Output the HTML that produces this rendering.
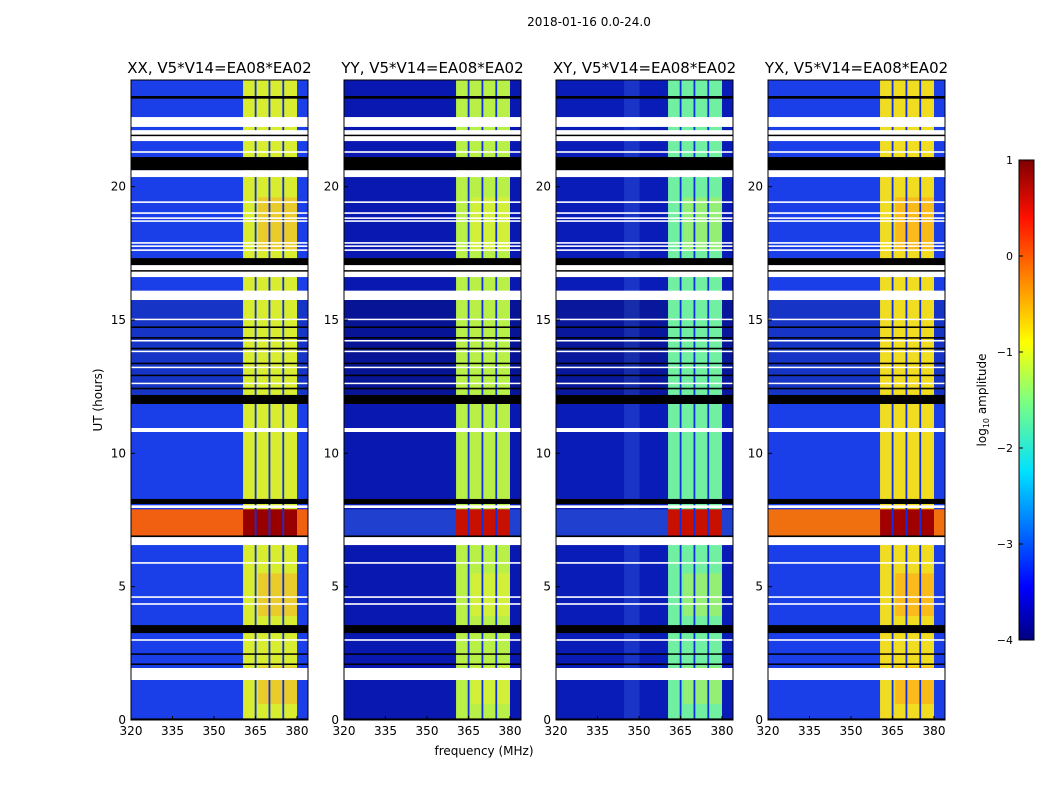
<!DOCTYPE html>
<html><head><meta charset="utf-8"><style>
body{margin:0;background:#fff;width:1050px;height:800px;overflow:hidden}
svg text{font-family:"DejaVu Sans","Liberation Sans",sans-serif;fill:#000}
</style></head><body>
<svg id="chart" width="1050" height="800" xmlns="http://www.w3.org/2000/svg">
<defs>
<linearGradient id="jet" x1="0" y1="1" x2="0" y2="0">
<stop offset="0" stop-color="#00007f"/><stop offset="0.11" stop-color="#0000ff"/>
<stop offset="0.35" stop-color="#00e0ff"/><stop offset="0.5" stop-color="#7fff7f"/>
<stop offset="0.62" stop-color="#ffff00"/><stop offset="0.88" stop-color="#ff1000"/>
<stop offset="1" stop-color="#7f0000"/></linearGradient>
</defs>
<text x="589" y="26" font-size="12" text-anchor="middle">2018-01-16 0.0-24.0</text>
<text transform="translate(102,400) rotate(-90)" font-size="12" text-anchor="middle">UT (hours)</text>
<text x="484" y="755" font-size="12" text-anchor="middle">frequency (MHz)</text>
<g id="panels"></g>
<g id="cbar"></g>
</svg>
<script>
// data
const panelTitles=["XX, V5*V14=EA08*EA02","YY, V5*V14=EA08*EA02","XY, V5*V14=EA08*EA02","YX, V5*V14=EA08*EA02"];
const panelLeft=[131,344,556,768];
const bgColor=["#1a3ee8","#0818b0","#0a1cb8","#1a3ee8"];
const bandColor=["#d8ec30","#b8f048","#70f0a0","#f0dc20"];
const bandHot=["#f8b028","#e8f030","#b0f050","#ffa018"];
const rfiLeft=["#f06010","#2040d0","#2040d0","#f07010"];
const rfiBand=["#980000","#c81000","#c81000","#a00000"];
const xTicks=[320,335,350,365,380];
const yTicks=[0,5,10,15,20];
const cbTicks=[1,0,-1,-2,-3,-4];
const bandRange=[360.5,380];
const bandGaps=[365,370,375];
const xyStripe=[344.6,350.2];
const whiteFlags=[[22.24,22.61],[21.71,22.12],[21.27,21.33],[20.36,20.62],[19.39,19.45],[18.98,19.04],[18.79,18.85],[18.68,18.74],[17.86,17.92],[17.74,17.8],[17.59,17.65],[16.61,17.06],[15.75,16.1],[15.0,15.05],[14.2,14.25],[13.8,13.85],[13.2,13.25],[12.6,12.65],[10.8,10.95],[7.95,8.05],[6.56,6.86],[5.86,5.92],[4.58,4.64],[4.32,4.38],[2.97,3.03],[1.5,1.95]];
const blackFlags=[[23.3,23.4],[21.9,21.95],[20.62,21.11],[17.06,17.32],[16.82,16.87],[14.7,14.76],[14.3,14.36],[13.9,13.96],[13.35,13.4],[12.9,12.95],[12.4,12.46],[11.85,12.19],[8.1,8.29],[6.86,6.92],[3.26,3.56],[2.45,2.5],[2.07,2.12],[0,0.06]];
const hotBands=[[17.6,19.6],[3.9,5.5],[0.6,2.0]];
const rfiRange=[6.9,7.9];
const darkRange=[12.2,16.0];
// scales
const pTop=80,pBot=720,pw=177;
const yS=h=>pBot-(h/24)*(pBot-pTop);
const xS=(i,f)=>panelLeft[i]+(f-320)*(166/60);
const NS="http://www.w3.org/2000/svg";
function mk(tag,attrs,parent){const e=document.createElementNS(NS,tag);for(const k in attrs)e.setAttribute(k,attrs[k]);parent.appendChild(e);return e;}
const G=document.getElementById('panels');
for(let i=0;i<4;i++){
 const g=mk('g',{},G);
 
 
 const L=panelLeft[i];
 const bg=mk('rect',{x:L,y:pTop,width:pw,height:pBot-pTop,fill:bgColor[i]},g);
 
 
 if(i===2){const s=mk('rect',{x:xS(i,xyStripe[0]),y:pTop,width:xS(i,xyStripe[1])-xS(i,xyStripe[0]),height:pBot-pTop,fill:"#1a34c8"},g);
  
  }
 const dk=mk('rect',{x:L,y:yS(darkRange[1]),width:pw,height:yS(darkRange[0])-yS(darkRange[1]),fill:"#000",opacity:0.15},g);
 
 
 const bx=xS(i,bandRange[0]),bw=xS(i,bandRange[1])-bx;
 const band=mk('rect',{x:bx,y:pTop,width:bw,height:pBot-pTop,fill:bandColor[i]},g);
 
 
 hotBands.forEach(hb=>{const r=mk('rect',{x:xS(i,366),y:yS(hb[1]),width:xS(i,380)-xS(i,366),height:yS(hb[0])-yS(hb[1]),fill:bandHot[i],opacity:0.55},g);
  
  });
 const rl=mk('rect',{x:L,y:yS(rfiRange[1]),width:pw,height:yS(rfiRange[0])-yS(rfiRange[1]),fill:rfiLeft[i]},g);
 
 
 const rb=mk('rect',{x:bx,y:yS(rfiRange[1]),width:bw,height:yS(rfiRange[0])-yS(rfiRange[1]),fill:rfiBand[i]},g);
 
 
 bandGaps.forEach(f=>{const r=mk('rect',{x:xS(i,f)-0.8,y:pTop,width:1.8,height:pBot-pTop,fill:"#1030e0"},g);
  
  });
 whiteFlags.forEach(w=>{const r=mk('rect',{x:L,y:yS(w[1]),width:pw,height:Math.max(1.5,yS(w[0])-yS(w[1])),fill:"#fff"},g);
  
  });
 blackFlags.forEach(w=>{const r=mk('rect',{x:L,y:yS(w[1]),width:pw,height:Math.max(1.5,yS(w[0])-yS(w[1])),fill:"#000"},g);
  
  });
 const fr=mk('rect',{x:L,y:pTop,width:pw,height:pBot-pTop,fill:"none",stroke:"#000","stroke-width":1},g);
 
 
 const t=mk('text',{x:L+pw/2,y:73,"font-size":15,"text-anchor":"middle"},g);t.textContent=panelTitles[i];
 
 
 xTicks.forEach(v=>{const x=xS(i,v);mk('line',{x1:x,x2:x,y1:pBot,y2:pBot-4,stroke:"#000"},g);
  const tx=mk('text',{x:x,y:pBot+15,"font-size":12,"text-anchor":"middle"},g);tx.textContent=v;
  
  });
 yTicks.forEach(v=>{const y=yS(v);mk('line',{x1:L,x2:L+4,y1:y,y2:y,stroke:"#000"},g);
  const ty=mk('text',{x:L-5,y:y+4,"font-size":12,"text-anchor":"end"},g);ty.textContent=v;
  
  });
}
const C=document.getElementById('cbar');


const cT=160,cB=640,cX=1019,cW=15;
const cS=v=>cB-(v+4)/5*(cB-cT);
mk('rect',{x:cX,y:cT,width:cW,height:cB-cT,fill:"url(#jet)",stroke:"#000"},C);
cbTicks.forEach(v=>{const y=cS(v);mk('line',{x1:cX,x2:cX+4,y1:y,y2:y,stroke:"#000"},C);
 const t=mk('text',{x:1013,y:y+4,"font-size":11,"text-anchor":"end"},C);t.textContent=(v<0?"\u2212"+(-v):v);
 
 });
const lab=mk('text',{transform:"translate(986,400) rotate(-90)","font-size":12,"text-anchor":"middle"},C);
lab.innerHTML='log<tspan font-size="8" dy="3">10</tspan><tspan dy="-3"> amplitude</tspan>';


</script>
</body></html>
